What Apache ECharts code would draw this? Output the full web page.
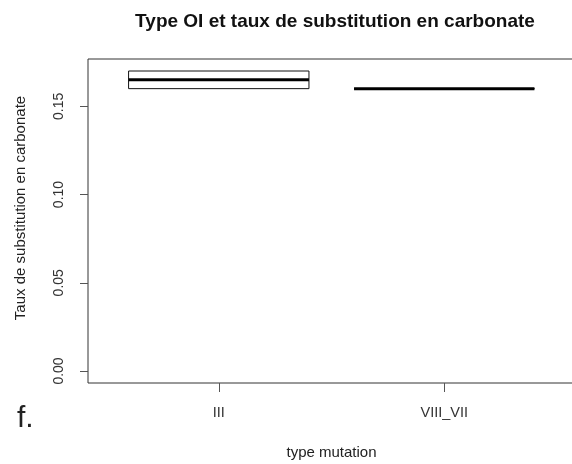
<!DOCTYPE html>
<html>
<head>
<meta charset="utf-8">
<script src="https://cdn.jsdelivr.net/npm/echarts@6/dist/echarts.min.js"></script>
<style>
  html, body { margin: 0; padding: 0; background: #fff; }
  #chart { width: 572px; height: 464px; }
</style>
</head>
<body>
<div id="chart"></div>
<script>
// Carbonate substitution rate by OI mutation type
const categories = ['III', 'VIII_VII'];
const lowerQuartile = [0.16, 0.16];
const medians = [0.165, 0.16];
const upperQuartile = [0.17, 0.16];
const yTicks = [0, 0.05, 0.10, 0.15];

const FONT = '"Liberation Sans", Arial, sans-serif';
const BOX_HALF_WIDTH = 0.4;
const xPositions = categories.map((c, i) => i + 1);

const chart = echarts.init(document.getElementById('chart'), null, { renderer: 'canvas' });

const boxData = categories.map((c, i) => [i + 1, lowerQuartile[i], medians[i], upperQuartile[i]]);

function renderBox(params, api) {
  const x = api.value(0);
  const q1 = api.value(1);
  const med = api.value(2);
  const q3 = api.value(3);
  const tl = api.coord([x - BOX_HALF_WIDTH, q3]);
  const br = api.coord([x + BOX_HALF_WIDTH, q1]);
  const ml = api.coord([x - BOX_HALF_WIDTH, med]);
  const mr = api.coord([x + BOX_HALF_WIDTH, med]);
  return {
    type: 'group',
    children: [
      {
        type: 'rect',
        shape: { x: tl[0], y: tl[1], width: br[0] - tl[0], height: br[1] - tl[1] },
        style: { fill: '#fff', stroke: '#111', lineWidth: 1 }
      },
      {
        type: 'line',
        shape: { x1: ml[0], y1: ml[1], x2: mr[0], y2: mr[1] },
        style: { stroke: '#000', lineWidth: 3 }
      }
    ]
  };
}

chart.setOption({
  animation: false,
  backgroundColor: '#fff',
  grid: {
    left: 88, top: 59, width: 487, height: 324,
    outerBoundsMode: 'none', containLabel: false,
    show: true, borderColor: '#333', borderWidth: 1, backgroundColor: 'transparent'
  },
  graphic: [
    {
      type: 'text', x: 335, y: 22,
      style: {
        text: 'Type OI et taux de substitution en carbonate',
        font: 'bold 19px ' + FONT, fill: '#111',
        textAlign: 'center', textVerticalAlign: 'middle'
      }
    },
    {
      type: 'text', x: 21, y: 208, rotation: Math.PI / 2,
      style: {
        text: 'Taux de substitution en carbonate',
        font: '15px ' + FONT, fill: '#222',
        textAlign: 'center', textVerticalAlign: 'middle'
      }
    },
    {
      type: 'text', x: 17, y: 404,
      style: { text: 'f.', font: '30px ' + FONT, fill: '#222' }
    }
  ],
  xAxis: {
    type: 'value',
    min: 0.42, max: 2.58,
    splitLine: { show: false },
    axisLine: { show: false, onZero: false },
    axisTick: { show: true, length: 9, customValues: xPositions, lineStyle: { color: '#555' } },
    axisLabel: {
      customValues: xPositions, margin: 22,
      formatter: v => categories[Math.round(v) - 1],
      color: '#333', fontFamily: FONT, fontSize: 14.5
    },
    name: 'type mutation',
    nameLocation: 'middle', nameGap: 62,
    nameTextStyle: { color: '#222', fontFamily: FONT, fontSize: 15 }
  },
  yAxis: {
    type: 'value',
    min: -0.0068, max: 0.1768,
    splitLine: { show: false },
    axisLine: { show: false, onZero: false },
    axisTick: { show: true, length: 8, customValues: yTicks, lineStyle: { color: '#555' } },
    axisLabel: {
      customValues: yTicks, rotate: 90, margin: 22,
      formatter: v => v.toFixed(2),
      color: '#333', fontFamily: FONT, fontSize: 14
    }
  },
  series: [
    {
      type: 'custom',
      renderItem: renderBox,
      encode: { x: 0, y: [1, 2, 3] },
      data: boxData
    }
  ]
});
</script>
</body>
</html>
